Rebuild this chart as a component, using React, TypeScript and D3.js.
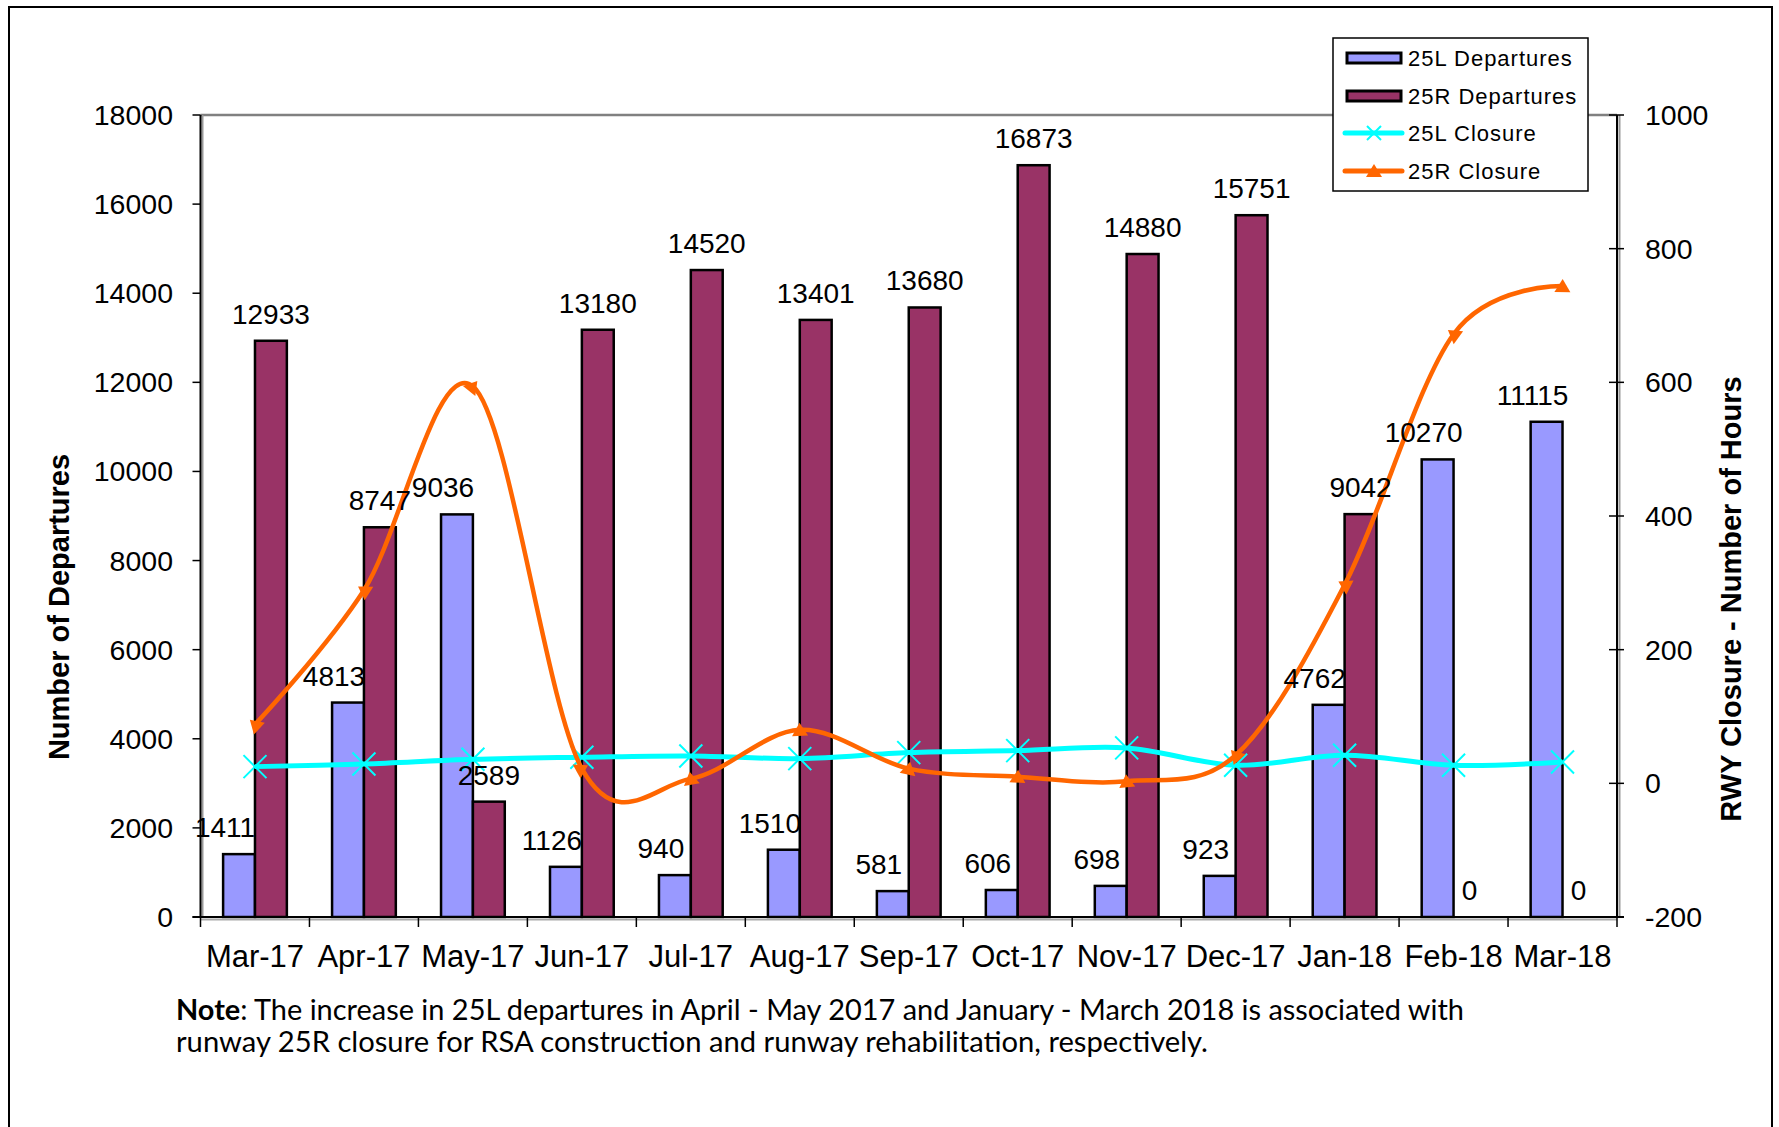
import { line, curveCardinal, scaleBand, scaleLinear } from 'd3'

const months = [
  'Mar-17', 'Apr-17', 'May-17', 'Jun-17', 'Jul-17', 'Aug-17', 'Sep-17',
  'Oct-17', 'Nov-17', 'Dec-17', 'Jan-18', 'Feb-18', 'Mar-18',
]
const departures25L = [1411, 4813, 9036, 1126, 940, 1510, 581, 606, 698, 923, 4762, 10270, 11115]
const departures25R = [12933, 8747, 2589, 13180, 14520, 13401, 13680, 16873, 14880, 15751, 9042, 0, 0]
const closure25L = [25, 29, 36, 39, 41, 37, 46, 49, 53, 27, 42, 27, 32]
const closure25R = [88, 289, 594, 22, 7, 80, 22, 10, 3, 42, 297, 672, 744]
const leftTicks = [0, 2000, 4000, 6000, 8000, 10000, 12000, 14000, 16000, 18000]
const rightTicks = [-200, 0, 200, 400, 600, 800, 1000]
const legendItems = ['25L Departures', '25R Departures', '25L Closure', '25R Closure']

const WIDTH = 1779
const HEIGHT = 1127
const PLOT = { left: 200.5, right: 1617, top: 115, bottom: 917 }
const COLOR_25L = '#9999ff'
const COLOR_25R = '#993366'
const CYAN = '#00ffff'
const ORANGE = '#ff6600'
const FONT = '"Liberation Sans", Arial, sans-serif'

const xBand = scaleBand<string>().domain(months).range([PLOT.left, PLOT.right])
const pairWidth = xBand.bandwidth() * 0.585
const xBar = scaleBand<string>().domain(['25L', '25R']).range([0, pairWidth])
const yLeft = scaleLinear().domain([0, 18000]).range([PLOT.bottom, PLOT.top])
const yRight = scaleLinear().domain([-200, 1000]).range([PLOT.bottom, PLOT.top])

const barX = (i: number, key: string) =>
  (xBand(months[i]) ?? 0) + (xBand.bandwidth() - pairWidth) / 2 + (xBar(key) ?? 0)
const centerX = (i: number) => (xBand(months[i]) ?? 0) + xBand.bandwidth() / 2

const closureLine = line<number>()
  .x((_, i) => centerX(i))
  .y((d) => yRight(d))
  .curve(curveCardinal.tension(0))

const XMark = ({ x, y, r = 11.5 }: { x: number; y: number; r?: number }) => (
  <path
    d={`M${x - r},${y - r}L${x + r},${y + r}M${x - r},${y + r}L${x + r},${y - r}`}
    stroke={CYAN}
    strokeWidth={2}
  />
)

export default function App() {
  const bw = xBar.bandwidth()
  const legendRows = [58, 96, 133, 171]

  return (
    <div style={{ position: 'absolute', left: 0, top: 0 }}>
      <svg width={WIDTH} height={HEIGHT} viewBox={`0 0 ${WIDTH} ${HEIGHT}`} style={{ display: 'block', background: '#fff' }}>
        <defs>
          <marker
            id="tri"
            markerUnits="userSpaceOnUse"
            orient="auto"
            viewBox="-10 -10 20 20"
            markerWidth={20}
            markerHeight={20}
            refX={0}
            refY={0}
          >
            <path d="M-8,6L8,6L0,-7Z" fill={ORANGE} />
          </marker>
        </defs>

        {/* outer frame */}
        <rect x={9} y={7} width={1763} height={1200} fill="none" stroke="#000" strokeWidth={2} />

        {/* plot border top */}
        <line x1={PLOT.left} x2={PLOT.right} y1={PLOT.top} y2={PLOT.top} stroke="#808080" strokeWidth={2.5} />

        {/* bars */}
        {months.map((m, i) => (
          <g key={m}>
            <rect
              x={barX(i, '25L')}
              y={yLeft(departures25L[i])}
              width={bw}
              height={PLOT.bottom - yLeft(departures25L[i])}
              fill={COLOR_25L}
              stroke="#000"
              strokeWidth={2.5}
            />
            {departures25R[i] > 0 ? (
              <rect
                x={barX(i, '25R')}
                y={yLeft(departures25R[i])}
                width={bw}
                height={PLOT.bottom - yLeft(departures25R[i])}
                fill={COLOR_25R}
                stroke="#000"
                strokeWidth={2.5}
              />
            ) : null}
          </g>
        ))}

        {/* axes */}
        <line x1={PLOT.left + 2} x2={PLOT.left + 2} y1={PLOT.top} y2={PLOT.bottom} stroke="#999" strokeWidth={2} />
        <line x1={PLOT.left} x2={PLOT.left} y1={PLOT.top} y2={PLOT.bottom} stroke="#000" strokeWidth={2} />
        <line x1={PLOT.right + 2.5} x2={PLOT.right + 2.5} y1={PLOT.top} y2={PLOT.bottom} stroke="#999" strokeWidth={2} />
        <line x1={PLOT.right} x2={PLOT.right} y1={PLOT.top} y2={PLOT.bottom} stroke="#000" strokeWidth={2} />
        <line x1={PLOT.left} x2={PLOT.right} y1={PLOT.bottom + 2.5} y2={PLOT.bottom + 2.5} stroke="#aaa" strokeWidth={2} />
        <line x1={PLOT.left - 8} x2={PLOT.right + 7} y1={PLOT.bottom} y2={PLOT.bottom} stroke="#000" strokeWidth={2} />

        {leftTicks.map((t) => (
          <g key={`l${t}`}>
            <line x1={PLOT.left - 8} x2={PLOT.left} y1={yLeft(t)} y2={yLeft(t)} stroke="#000" strokeWidth={1.5} />
            <text x={173} y={yLeft(t)} textAnchor="end" dominantBaseline="central" fontFamily={FONT} fontSize={28.5}>
              {t}
            </text>
          </g>
        ))}
        {rightTicks.map((t) => (
          <g key={`r${t}`}>
            <line x1={PLOT.right - 8} x2={PLOT.right + 7} y1={yRight(t)} y2={yRight(t)} stroke="#000" strokeWidth={1.5} />
            <text x={1645} y={yRight(t)} dominantBaseline="central" fontFamily={FONT} fontSize={28.5}>
              {t}
            </text>
          </g>
        ))}
        {months.map((m, i) => (
          <g key={`x${m}`}>
            <line
              x1={xBand(m) ?? 0}
              x2={xBand(m) ?? 0}
              y1={PLOT.bottom}
              y2={PLOT.bottom + 10}
              stroke="#000"
              strokeWidth={1.5}
            />
            <text x={centerX(i)} y={967} textAnchor="middle" fontFamily={FONT} fontSize={31}>
              {m}
            </text>
          </g>
        ))}
        <line x1={PLOT.right} x2={PLOT.right} y1={PLOT.bottom} y2={PLOT.bottom + 10} stroke="#000" strokeWidth={1.5} />

        {/* axis titles */}
        <text
          transform="translate(59,607) rotate(-90)"
          textAnchor="middle"
          dominantBaseline="central"
          fontFamily={FONT}
          fontWeight="bold"
          fontSize={29}
        >
          Number  of Departures
        </text>
        <text
          transform="translate(1731,599) rotate(-90)"
          textAnchor="middle"
          dominantBaseline="central"
          fontFamily={FONT}
          fontWeight="bold"
          fontSize={29}
        >
          RWY Closure - Number of Hours
        </text>

        {/* closure lines */}
        <path d={closureLine(closure25L) ?? ''} fill="none" stroke={CYAN} strokeWidth={5} />
        {closure25L.map((v, i) => (
          <XMark key={`c${i}`} x={centerX(i)} y={yRight(v)} />
        ))}
        <path
          d={closureLine(closure25R) ?? ''}
          fill="none"
          stroke={ORANGE}
          strokeWidth={4.5}
          markerStart="url(#tri)"
          markerMid="url(#tri)"
          markerEnd="url(#tri)"
        />

        {/* data labels */}
        {months.map((m, i) => (
          <g key={`lab${m}`} fontFamily={FONT} fontSize={28}>
            <text x={barX(i, '25L') + bw / 2 - 14} y={yLeft(departures25L[i]) - 17} textAnchor="middle">
              {departures25L[i]}
            </text>
            <text x={barX(i, '25R') + bw / 2} y={yLeft(departures25R[i]) - 17} textAnchor="middle">
              {departures25R[i]}
            </text>
          </g>
        ))}

        {/* legend */}
        <rect x={1333} y={38} width={255} height={153} fill="#fff" stroke="#000" strokeWidth={1.5} />
        {legendItems.map((name, i) => {
          const y = legendRows[i]
          return (
            <g key={name}>
              {i < 2 ? (
                <rect
                  x={1347}
                  y={y - 5}
                  width={54}
                  height={10}
                  fill={i === 0 ? COLOR_25L : COLOR_25R}
                  stroke="#000"
                  strokeWidth={3}
                />
              ) : i === 2 ? (
                <g>
                  <line x1={1345} x2={1402} y1={y} y2={y} stroke={CYAN} strokeWidth={5} strokeLinecap="round" />
                  <XMark x={1374} y={y} r={7} />
                </g>
              ) : (
                <path
                  d={`M1345,${y}L1374,${y}L1402,${y}`}
                  stroke={ORANGE}
                  strokeWidth={5}
                  strokeLinecap="round"
                  markerMid="url(#tri)"
                />
              )}
              <text x={1408} y={y} dominantBaseline="central" fontFamily={FONT} fontSize={22} letterSpacing={1}>
                {name}
              </text>
            </g>
          )
        })}

        {/* note */}
        <text x={176} y={1020} fontFamily="Lato, 'Open Sans', sans-serif" fontSize={28} textLength={1288} lengthAdjust="spacingAndGlyphs">
          <tspan fontWeight="bold">Note</tspan>: The increase in 25L departures in April - May 2017 and January - March 2018 is associated with
        </text>
        <text x={176} y={1052} fontFamily="Lato, 'Open Sans', sans-serif" fontSize={28} textLength={1032} lengthAdjust="spacingAndGlyphs">
          runway 25R closure for RSA construction and runway rehabilitation, respectively.
        </text>
      </svg>
    </div>
  )
}
